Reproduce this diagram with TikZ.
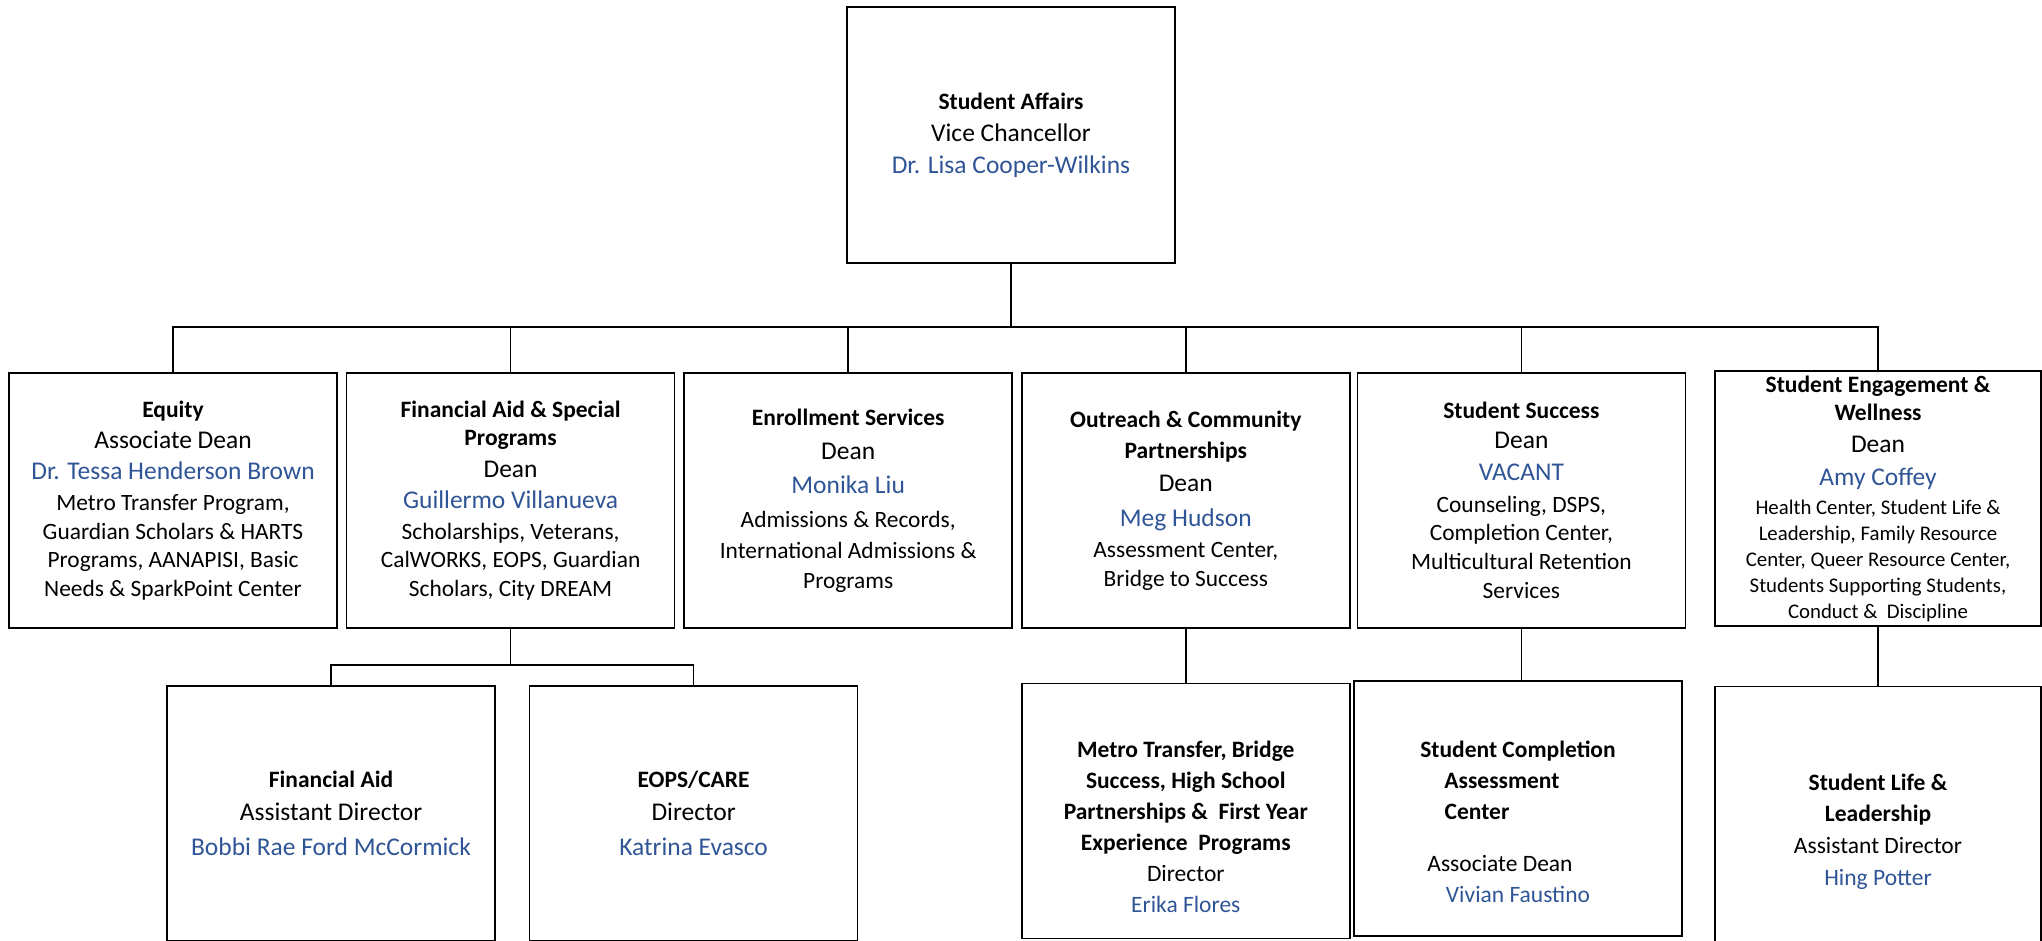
\documentclass[tikz,border=0pt]{standalone}
\usepackage{fontspec}
\setmainfont{Carlito}
\usetikzlibrary{positioning}
\definecolor{namecol}{RGB}{47,85,151}
\newcommand{\hd}[1]{{\fontsize{11.75}{15.5}\selectfont\bfseries #1}}
\newcommand{\nm}[1]{{\color{namecol}#1}}
\newcommand{\sm}[1]{{\fontsize{11.7}{15.5}\selectfont #1}}
\newcommand{\xs}[1]{{\fontsize{10.4}{15.5}\selectfont #1}}
\tikzset{
		unit box/.style = {draw, line width=0.8pt, minimum width=164pt, minimum height=127.5pt,
			inner sep=0pt, align=center, font=\fontsize{12.75}{15.5}\selectfont},
		small box/.style = {unit box, font=\fontsize{11.75}{15.5}\selectfont},
		org line/.style = {line width=0.8pt}
	}
\begin{document}
\begin{tikzpicture}[x=0.5pt, y=-0.5pt, node distance=4pt]
	\useasboundingbox (0,0) rectangle (2042,941);

	\node[unit box, minimum height=128pt] (sa) at (1011,135)
		{\hd{Student Affairs}\\[0.5pt]Vice Chancellor\\[0.5pt]\nm{Dr. Lisa Cooper-Wilkins}};

	% deans
	\node[unit box] (eq) at (173,500.5)
		{\hd{Equity}\\Associate Dean\\\nm{Dr. Tessa Henderson Brown}\\\sm{Metro Transfer Program,}\\[-1.25pt]
		 \sm{Guardian Scholars \& HARTS}\\[-1.25pt]\sm{Programs, AANAPISI, Basic}\\[-1.25pt]\sm{Needs \& SparkPoint Center}};
	\node[unit box] (fin) [right=of eq]
		{\hd{Financial Aid \& Special}\\[-1.5pt]\hd{Programs}\\[0.5pt]Dean\\\nm{Guillermo Villanueva}\\\sm{Scholarships, Veterans,}\\[-1.25pt]
		 \sm{CalWORKS, EOPS, Guardian}\\[-1.25pt]\sm{Scholars, City DREAM}};
	\node[unit box] (enr) [right=of fin]
		{\hd{Enrollment Services}\\[1.5pt]Dean\\[1.5pt]\nm{Monika Liu}\\[1.5pt]\sm{Admissions \& Records,}\\
		 \sm{International Admissions \&}\\[-0.5pt]\sm{Programs}};
	\node[unit box] (out) [right=of enr]
		{\hd{Outreach \& Community}\\\hd{Partnerships}\\[1pt]Dean\\[2pt]\nm{Meg Hudson}\\\sm{Assessment Center,}\\[-1pt]\sm{Bridge to Success}};
	\node[unit box] (ss) [right=3pt of out]
		{\hd{Student Success}\\[-0.5pt]Dean\\[0.5pt]\nm{VACANT}\\[0.5pt]\sm{Counseling, DSPS,}\\[-1.25pt]
		 \sm{Completion Center,}\\[-1pt]\sm{Multicultural Retention}\\[-1pt]\sm{Services}};
	\node[unit box, minimum width=163pt] (eng) at (1878,498.5)
		{\hd{Student Engagement \&}\\[-1.5pt]\hd{Wellness}\\[0.5pt]Dean\\[1pt]\nm{Amy Coffey}\\[-1pt]
		 \xs{Health Center, Student Life \&}\\[-2.5pt]\xs{Leadership, Family Resource}\\[-2.5pt]
		 \xs{Center, Queer Resource Center,}\\[-2.5pt]\xs{Students Supporting Students,}\\[-2.5pt]\xs{Conduct \&~ Discipline}};

	% second level
	\node[unit box] (faid) at (331,813.5)
		{\hd{Financial Aid}\\[1pt]Assistant Director\\[2pt]\nm{Bobbi Rae Ford McCormick}};
	\node[unit box] (eops) [right=16.5pt of faid]
		{\hd{EOPS/CARE}\\[1pt]Director\\[2pt]\nm{Katrina Evasco}};
	\node[small box] (metro) [below=27pt of out]
		{{}\\[8.5pt]\hd{Metro Transfer, Bridge}\\\hd{Success, High School}\\\hd{Partnerships \&~ First Year}\\
		 \hd{Experience~ Programs}\\Director\\\nm{Erika Flores}};
	\node[small box] (sc) at (1518,808.5)
		{{}\\[6.5pt]\hd{Student Completion}\\\hd{Assessment}\kern16pt\\\hd{Center}\kern41pt\\[10.5pt]
		 Associate Dean\kern18pt\\\nm{Vivian Faustino}};
	\node[small box, minimum width=163pt] (life) [below=29.5pt of eng]
		{{}\\[10.5pt]\hd{Student Life \&}\\\hd{Leadership}\\[0.5pt]Assistant Director\\[0.5pt]\nm{Hing Potter}};

	\coordinate[yshift=22.5pt] (bar) at (sa.south |- eq.north);
	\coordinate[yshift=10pt] (fabar) at (fin.south |- faid.north);

	\draw[org line] (sa.south) -- (bar);
	\foreach \d in {eq,fin,enr,out,ss,eng}
		\draw[org line] (\d.north) |- (bar);
	\draw[org line] (fin.south) -- (fabar);
	\foreach \d in {faid,eops}
		\draw[org line] (\d.north) |- (fabar);
	\draw[org line] (out.south) -- (metro.north);
	\draw[org line] (ss.south) -- (ss.south |- sc.north);
	\draw[org line] (eng.south) -- (life.north);
\end{tikzpicture}
\end{document}
